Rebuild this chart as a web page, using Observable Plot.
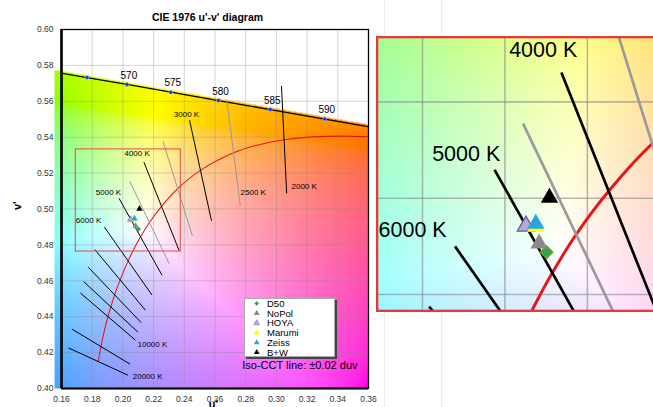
<!DOCTYPE html>
<html><head><meta charset="utf-8">
<script src="https://cdn.jsdelivr.net/npm/d3@7"></script>
<script src="https://cdn.jsdelivr.net/npm/@observablehq/plot@0.6"></script>
<style>
html,body{margin:0;padding:0;background:#fff;overflow:hidden;}
#wrap{position:relative;width:653px;height:407px;overflow:hidden;font-family:"Liberation Sans",Arial,sans-serif;}
.faint{position:absolute;top:0;width:1px;height:407px;background:#ebebeb;}
#main{position:absolute;left:0;top:0;}
#legend{position:absolute;left:244px;top:298px;width:91px;height:59px;background:#fff;border:1px solid #aaa;box-shadow:2px 2px 0 #444;box-sizing:border-box;}
#insetBorder{position:absolute;left:376px;top:36px;width:284px;height:276px;border:2px solid #e43a3a;box-sizing:border-box;pointer-events:none;}
</style>
</head><body>
<div id="wrap">
  <div class="faint" style="left:384px"></div>
  <div class="faint" style="left:441px"></div>
  <div id="main"></div>
  <div id="insetBorder"></div>
  <div id="legend"></div>
</div>
<script>
// ---- axis ticks ----
const uTicks = [0.16,0.18,0.20,0.22,0.24,0.26,0.28,0.30,0.32,0.34,0.36];
const vTicks = [0.40,0.42,0.44,0.46,0.48,0.50,0.52,0.54,0.56,0.58,0.60];

// ---- spectral locus (wavelength nm, u', v') ----
const wl  = [550,555,560,565,570,575,580,585,590,595,600];
const wlU = [0.1127,0.1319,0.1531,0.1766,0.2026,0.2312,0.2623,0.2960,0.3315,0.3681,0.4035];
const wlV = [0.5821,0.5796,0.5766,0.5732,0.5694,0.5651,0.5604,0.5554,0.5501,0.5446,0.5393];
const wlLabeled = [570,575,580,585,590];

// ---- Planckian locus (K, u', v') ----
const plT = [1400,1500,1600,1800,2000,2250,2500,3000,3500,4000,4500,5000,5500,6000,7000,8000,10000,12000,15000,20000];
const plU = [0.3723,0.3580,0.3451,0.3231,0.3050,0.2867,0.2721,0.2505,0.2357,0.2252,0.2173,0.2115,0.2070,0.2034,0.1982,0.1946,0.1903,0.1878,0.1857,0.1840];
const plV = [0.5396,0.5403,0.5406,0.5402,0.5386,0.5354,0.5313,0.5215,0.5113,0.5015,0.4925,0.4845,0.4774,0.4711,0.4605,0.4522,0.4401,0.4317,0.4234,0.4150];

// ---- iso-CCT lines, +/-0.02 duv (upper end 1, lower end 2) ----
const isoT  = [2000,2500,3000,3500,4000,4500,5000,6000,7000,8000,9000,10000,15000,20000];
const isoU1 = [0.3033,0.2677,0.2434,0.2261,0.2137,0.2044,0.1975,0.1879,0.1816,0.1774,0.1744,0.1723,0.1668,0.1646];
const isoV1 = [0.5685,0.5605,0.5495,0.5377,0.5261,0.5155,0.5059,0.4900,0.4775,0.4676,0.4596,0.4532,0.4331,0.4226];
const isoU2 = [0.3067,0.2765,0.2577,0.2453,0.2366,0.2301,0.2255,0.2189,0.2147,0.2118,0.2098,0.2082,0.2046,0.2033];
const isoV2 = [0.5087,0.5020,0.4935,0.4850,0.4769,0.4696,0.4631,0.4521,0.4436,0.4368,0.4314,0.4269,0.4136,0.4074];
const isoLabeled = [2000,2500,3000,4000,5000,6000,10000,20000];

// ---- measured points ----
const mName = ["D50","NoPol","HOYA","Marumi","Zeiss","B+W"];
const mU = [0.2101,0.2083,0.2051,0.2075,0.2075,0.2108];
const mV = [0.4888,0.4906,0.4942,0.4941,0.4947,0.5001];

// ---- zoom window ----
const zoomU = [0.1693,0.2377];
const zoomV = [0.4763,0.5332];

// ===== layout / style (not data) =====
const isoLabelLayout = {
  2000:{end:2,anchor:"start",dx:4.8,dy:-7.2},
  2500:{end:2,anchor:"start",dx:0.2,dy:-12.9},
  3000:{end:1,anchor:"middle",dx:-3,dy:-5.3},
  4000:{end:1,anchor:"end",dx:5.9,dy:-8.3},
  5000:{end:1,anchor:"end",dx:2.1,dy:-5.9},
  6000:{end:1,anchor:"end",dx:-3.1,dy:-6.1},
  10000:{end:2,anchor:"start",dx:2,dy:4.3},
  20000:{end:2,anchor:"start",dx:4.8,dy:1.3}
};
const markerStyle = {
  "D50":{symbol:"diamond2",fill:"#2aa84a",stroke:"#8f9a2a",strokeWidth:0.4,r:2.2},
  "NoPol":{symbol:"triangle",fill:"#8a8a8a",r:2.4},
  "HOYA":{symbol:"triangle",fill:"#b5a8da",stroke:"#6f5ba7",strokeWidth:0.5,r:2.4},
  "Marumi":{symbol:"triangle",fill:"#ffff00",r:2.4},
  "Zeiss":{symbol:"triangle",fill:"#27a7e0",r:2.4},
  "B+W":{symbol:"triangle",fill:"#000000",r:2.4}
};
const FONT = "Liberation Sans, Arial, sans-serif";

const locus = wl.map((w,i)=>({w,u:wlU[i],v:wlV[i]}));
const planck = plT.map((T,i)=>({T,u:plU[i],v:plV[i]}));
const iso = isoT.map((T,i)=>({T,u1:isoU1[i],v1:isoV1[i],u2:isoU2[i],v2:isoV2[i]}));
const markers = mName.map((n,i)=>({name:n,u:mU[i],v:mV[i]}));
const zoomBox = [{u1:zoomU[0],u2:zoomU[1],v1:zoomV[0],v2:zoomV[1]}];

// chromaticity colour field
function locusV(u){
  if (u <= wlU[0]) return wlV[0];
  for (let i=1;i<wlU.length;i++) if (u <= wlU[i]) {
    const t=(u-wlU[i-1])/(wlU[i]-wlU[i-1]); return wlV[i-1]+t*(wlV[i]-wlV[i-1]);
  }
  return wlV[wlV.length-1];
}
function linRGB(u,v){
  const d = 6*u-16*v+12, x = 9*u/d, y = 4*v/d;
  const X = x/y, Y = 1, Z = (1-x-y)/y;
  return [3.2406*X-1.5372*Y-0.4986*Z, -0.9689*X+1.8758*Y+0.0415*Z, 0.0557*X-0.2040*Y+1.0570*Z];
}
const WB = linRGB(0.214,0.489);
function chroma(u,v){
  if (v > locusV(u)+0.0012) return null;
  let c = linRGB(u,v).map((d,i)=>d/WB[i]);
  const m = Math.min(c[0],c[1],c[2]); if (m<0) c = c.map(d=>d-m);
  const M = Math.max(c[0],c[1],c[2]);
  c = c.map(d=>{d/=M; d = d<=0.0031308?12.92*d:1.055*Math.pow(d,1/2.4)-0.055; return Math.round(255*Math.max(0,Math.min(1,d)));});
  return `rgb(${c[0]},${c[1]},${c[2]})`;
}
const inZoom = (u,v) => u>=zoomU[0] && u<=zoomU[1] && v>=zoomV[0] && v<=zoomV[1];

function makePlot(isInset){
  const xd = [uTicks[0], uTicks[uTicks.length-1]];
  const yd = [vTicks[0], vTicks[vTicks.length-1]];
  const labelTs = isoLabeled.filter(T=>{
    if (!isInset) return true;
    const d = iso.find(e=>e.T===T), L = isoLabelLayout[T];
    return L.end===1 ? inZoom(d.u1,d.v1) : inZoom(d.u2,d.v2);
  });
  const marks = [
    Plot.raster({x1: xd[0]-0.0045, x2: xd[1], y1: yd[0], y2: yd[1], fill: chroma, pixelSize: 1}),
    Plot.ruleX(uTicks, {stroke:"#8a8a8a", strokeOpacity:0.6, strokeWidth:0.6}),
    Plot.ruleY(vTicks, {stroke:"#8a8a8a", strokeOpacity:0.6, strokeWidth:0.6}),
    Plot.frame({stroke:"#000", strokeWidth:1.3}),
    Plot.ruleX([xd[0]], {stroke:"#000", strokeWidth:2.6}),
    Plot.ruleY([yd[0]], {stroke:"#000", strokeWidth:2}),
    Plot.line(locus, {x:"u", y:"v", stroke:"#000", strokeWidth:1.3, clip:true}),
    Plot.line(planck, {x:"u", y:"v", stroke:"#e8161b", strokeWidth:1.1, curve:"catmull-rom", clip:true}),
    Plot.link(iso.filter(d=>d.T%1000!==0), {x1:"u1", y1:"v1", x2:"u2", y2:"v2", stroke:"#9a9a9a", strokeWidth:1}),
    Plot.link(iso.filter(d=>d.T%1000===0), {x1:"u1", y1:"v1", x2:"u2", y2:"v2", stroke:"#000", strokeWidth:1}),
    ...labelTs.map(T=>{
      const L = isoLabelLayout[T];
      const d = iso.filter(e=>e.T===T);
      return Plot.text(d, {x: L.end===1?"u1":"u2", y: L.end===1?"v1":"v2", text: e=>`${e.T} K`,
        textAnchor: L.anchor, dx: L.dx, dy: L.dy, fontSize: 8, fill:"#000"});
    }),
    Plot.dot(locus.filter(d=>d.u>=xd[0]&&d.u<=xd[1]), {x:"u", y:"v", r:2, fill:"#1030ff", stroke:"#cfd8ff", strokeWidth:0.5}),
    Plot.rect(zoomBox, {x1:"u1", x2:"u2", y1:"v1", y2:"v2", fill:"none", stroke:"#e84545", strokeWidth:1}),
    ...markers.map(m=>{
      const s = markerStyle[m.name];
      return Plot.dot([m], {x:"u", y:"v", symbol:s.symbol, r:s.r, fill:s.fill, stroke:s.stroke||"none", strokeWidth:s.strokeWidth||0});
    })
  ];
  if (!isInset) marks.push(
    Plot.text(locus.filter(d=>wlLabeled.includes(d.w)), {x:"u", y:"v", text:d=>String(d.w), dx:2, dy:-9, fontSize:10, fill:"#000"}),
    Plot.text(["CIE 1976 u'-v' diagram"], {text:d=>d, frameAnchor:"top", dx:-7.5, dy:-16, fontSize:10.5, fontWeight:"bold", fill:"#000"}),
    Plot.text(["v'"], {text:d=>d, frameAnchor:"left", dx:-44, dy:1, rotate:-90, fontSize:11, fontWeight:"bold", fill:"#000"}),
    Plot.text(["u'"], {text:d=>d, frameAnchor:"bottom", dx:-1.5, dy:19, fontSize:11, fontWeight:"bold", fill:"#000"}),
    Plot.text(["Iso-CCT line: ±0.02 duv"], {text:d=>d, frameAnchor:"bottom-right", textAnchor:"end", dx:-11, dy:-20, fontSize:11, fill:"#000"})
  );
  return Plot.plot({
    width: 372, height: 407,
    marginLeft: 61, marginRight: 4, marginTop: 29, marginBottom: 19,
    x: {domain: xd, ticks: uTicks, tickFormat: ".2f", tickSize: 0, tickPadding: 7, label: null, axis: isInset ? null : "bottom"},
    y: {domain: yd, ticks: vTicks, tickFormat: ".2f", tickSize: 0, tickPadding: 8, label: null, axis: isInset ? null : "left"},
    color: {type: "identity"},
    style: {fontFamily: FONT, fontSize: "8.5px", color: "#333", background: "transparent", overflow: "visible"},
    marks
  });
}

const main = makePlot(false);
document.getElementById("main").appendChild(main);

// inset: magnified copy of the zoom window
const sx = main.scale("x"), sy = main.scale("y");
const px0 = sx.apply(zoomU[0]), px1 = sx.apply(zoomU[1]);
const py0 = sy.apply(zoomV[1]), py1 = sy.apply(zoomV[0]);
const inset = makePlot(true);
inset.setAttribute("viewBox", `${px0} ${py0} ${px1-px0} ${py1-py0}`);
inset.setAttribute("preserveAspectRatio", "none");
inset.setAttribute("width", 282);
inset.setAttribute("height", 274);
Object.assign(inset.style, {position:"absolute", left:"377px", top:"37px", width:"282px", height:"274px", maxWidth:"none", overflow:"hidden"});
document.getElementById("wrap").insertBefore(inset, document.getElementById("insetBorder"));

// legend
const lg = d3.select("#legend").append("svg").attr("width",89).attr("height",57).style("display","block").style("overflow","visible");
mName.forEach((n,i)=>{
  const s = markerStyle[n];
  const y = 4.4 + i*9.8;
  const sym = s.symbol==="diamond2" ? d3.symbolDiamond2 : d3.symbolTriangle;
  lg.append("path").attr("d", d3.symbol(sym, Math.PI*Math.pow(s.r*0.9,2))())
    .attr("transform",`translate(11.7,${y})`).attr("fill",s.fill)
    .attr("stroke",s.stroke||"none").attr("stroke-width",s.strokeWidth||0);
  lg.append("text").attr("x",22).attr("y",y).attr("dy","0.35em").attr("font-family",FONT)
    .attr("font-size","9.5px").attr("fill","#000").text(n);
});
</script>
</body></html>
